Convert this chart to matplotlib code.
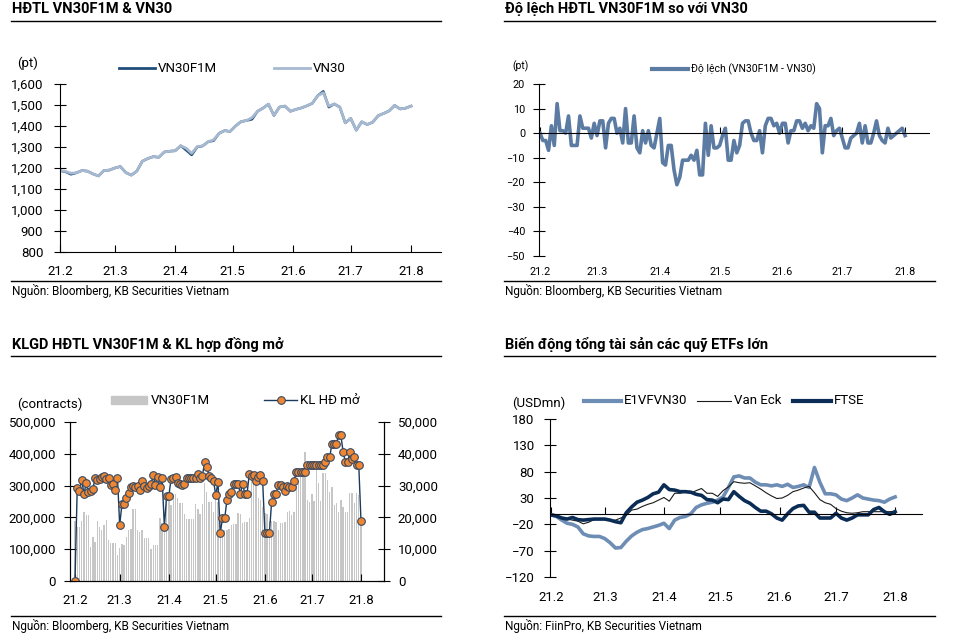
import numpy as np
import matplotlib.pyplot as plt
from matplotlib.lines import Line2D
from matplotlib.patches import Rectangle
from matplotlib.ticker import FuncFormatter

plt.rcParams['font.family'] = ['Roboto', 'DejaVu Sans']

# -----------------------------
# DATA (x = trading day index, Feb-Aug 2021)
# -----------------------------
tick_days = [0, 20, 42, 63, 85, 106, 128]
tick_labels = ['21.2', '21.3', '21.4', '21.5', '21.6', '21.7', '21.8']

# panel 1: index levels, every 2nd trading day
vn30 = [1187, 1184, 1175, 1177, 1188, 1185, 1172, 1162, 1188, 1190, 1200, 1207, 1178,
        1166, 1185, 1232, 1245, 1254, 1251, 1276, 1280, 1282, 1306, 1294, 1270, 1302,
        1305, 1325, 1334, 1365, 1378, 1374, 1400, 1421, 1426, 1440, 1470, 1485, 1504,
        1450, 1490, 1495, 1470, 1479, 1486, 1496, 1508, 1545, 1558, 1495, 1505, 1490,
        1415, 1436, 1380, 1420, 1407, 1418, 1449, 1460, 1472, 1498, 1481, 1485, 1495]
vn30f1m = [1187, 1182, 1170, 1177, 1188, 1185, 1172, 1162, 1188, 1190, 1200, 1207, 1178,
           1166, 1185, 1232, 1245, 1254, 1251, 1276, 1280, 1282, 1306, 1285, 1262, 1300,
           1305, 1325, 1330, 1365, 1378, 1374, 1400, 1421, 1426, 1432, 1470, 1485, 1504,
           1450, 1490, 1495, 1470, 1479, 1486, 1496, 1508, 1545, 1565, 1490, 1505, 1490,
           1415, 1436, 1380, 1420, 1407, 1418, 1449, 1460, 1472, 1498, 1481, 1485, 1495]

# panel 2: basis VN30F1M - VN30, daily
basis = [0, -3, -3, -7, 3, -5, 12, 1, 1, 0, 7, -5, -5, -5, 7, 2, 2, 2, -2, 4,
         -1, 5, 5, -6, 4, 6, 6, 0, 2, -4, 10, -4, -4, 7, -6, -8, 1, -4, 1, -5,
         -6, 0, 6, -12, -13, -5, -5, -15, -21, -18, -11, -11, -11, -9, -11, -7, -17, -17, 4, -9,
         3, -6, -6, -5, -1, 2, -11, -11, -3, -8, -5, 4, 5, 5, 0, -3, -3, 1, -8, 3,
         6, 6, 3, 4, 0, 4, 4, -4, 1, 1, 5, 5, 2, 4, 1, 3, 2, 12, 10, -8,
         3, 3, 6, -1, 1, 2, -2, -6, -6, -2, -1, 0, 4, -4, 3, -4, -4, 0, 5, -1,
         -3, -4, 2, -2, -1, 0, 1, 2, -1]

# panel 3: volume (thousand contracts) and open interest (thousand contracts), daily
volume_k = [188, 171, 171, 188, 218, 209, 207, 107, 139, 123, 188, 171, 160, 176, 192, 128, 121, 121, 121, 81,
            104, 115, 113, 139, 160, 165, 226, 226, 160, 155, 160, 136, 134, 134, 102, 113, 113, 113, 197, 181,
            207, 249, 255, 239, 274, 274, 260, 244, 244, 212, 195, 195, 195, 195, 241, 226, 211, 241, 307, 281,
            249, 249, 218, 270, 247, 165, 160, 160, 160, 165, 176, 178, 178, 213, 211, 183, 186, 186, 197, 331,
            334, 331, 260, 255, 234, 213, 211, 188, 188, 188, 186, 160, 181, 181, 186, 218, 220, 207, 218, 299,
            313, 334, 334, 405, 255, 249, 273, 252, 360, 307, 252, 339, 339, 318, 281, 297, 239, 244, 218, 255,
            234, 218, 218, 276, 276, 244, 276, 271, 180]
oi_k = [0, 29.4, 28.3, 31.8, 27.4, 30.7, 28.1, 28.4, 29.0, 32.3, 31.8, 32.2, 32.8, 33.0, 32.0, 32.5, 30.2, 30.5, 28.6, 32.5,
        17.6, 24.1, 24.1, 26.0, 27.6, 29.7, 30.0, 29.7, 29.8, 28.5, 31.3, 30.0, 29.4, 30.0, 30.5, 33.2, 30.2, 32.8, 29.7, 32.3,
        17.1, 26.8, 26.8, 32.1, 32.3, 32.8, 30.7, 30.4, 30.2, 30.5, 32.5, 32.5, 32.5, 32.5, 32.5, 33.6, 32.5, 33.0, 37.4, 35.9,
        33.0, 32.5, 31.5, 27.0, 31.0, 15.0, 19.7, 19.7, 25.4, 27.5, 28.0, 30.6, 30.6, 30.6, 27.5, 30.6, 27.5, 27.5, 33.6, 33.0,
        33.3, 31.3, 32.8, 33.3, 31.3, 15.0, 15.0, 15.0, 24.9, 27.5, 27.5, 30.3, 30.3, 29.5, 28.2, 30.0, 29.5, 29.5, 31.3, 34.3,
        34.3, 34.3, 34.3, 34.3, 36.6, 36.6, 36.6, 36.6, 36.6, 36.6, 36.6, 36.6, 37.5, 39.0, 39.0, 43.2, 43.2, 43.2, 45.8, 45.8,
        40.6, 37.4, 37.4, 40.6, 38.5, 39.0, 36.6, 36.6, 18.9]

# panel 4: change in ETF assets (USDmn), every 2nd trading day
e1vfvn30 = [-2, -5, -12, -18, -20, -25, -38, -42, -43, -43, -47, -55, -65, -64, -52, -42, -35, -30, -28, -25,
            -22, -18, -28, -12, -7, -5, 0, 12, 17, 20, 22, 26, 32, 50, 70, 72, 68, 68, 60, 55,
            55, 53, 55, 52, 56, 50, 52, 55, 50, 88, 60, 38, 38, 36, 28, 25, 30, 36, 30, 28,
            26, 25, 22, 28, 32]
van_eck = [-2, -5, -7, -10, -12, -14, -19, -16, -11, -10, -10, -13, -12, -8, -3, 7, 9, 14, 18, 21,
           26, 31, 24, 39, 39, 42, 39, 44, 48, 39, 39, 33, 44, 51, 61, 59, 58, 59, 53, 47,
           40, 34, 29, 30, 35, 42, 45, 49, 52, 40, 27, 21, 18, 10, 5, 2, 1, 2, 4, 4,
           4, 4, 4, 4, 5]
ftse = [-2, -4, -8, -10, -7, -11, -12, -11, -10, -10, -10, -12, -15, -17, 2, 13, 22, 26, 31, 38,
        41, 55, 46, 45, 42, 42, 41, 37, 35, 27, 26, 21, 28, 27, 42, 33, 25, 20, 12, 5,
        5, 0, -8, -12, 0, 10, 15, 16, 3, 3, -8, -8, -8, 1, -8, -12, -8, -2, -2, -2,
        8, 12, 4, -1, 4]

days = np.arange(len(basis))
half_days = np.arange(0, len(basis), 2)

# -----------------------------
# HELPERS (pixel -> figure coords)
# -----------------------------
W, H = 961, 635
fig = plt.figure(figsize=(W / 100, H / 100), dpi=100)


def fx(x):
    return x / W


def fy(y):
    return 1 - y / H


def box(l, t, r, b):
    return [l / W, 1 - b / H, (r - l) / W, (b - t) / H]


def hline(x0, x1, y, **kw):
    fig.add_artist(Line2D([fx(x0), fx(x1)], [fy(y), fy(y)], **kw))


def frame(x0, x1, y_title, y_top, y_bot, title, source):
    fig.text(fx(x0 + 1), fy(y_title), title, fontsize=10.5, fontweight='bold', va='center')
    hline(x0, x1, y_top, color='black', lw=1)
    hline(x0, x1, y_bot, color='black', lw=1)
    fig.text(fx(x0 + 1), fy(y_bot + 10), source, fontsize=8.5, va='center')


def legend_line(x0, x1, y, label, fs=9.5, **kw):
    fig.add_artist(Line2D([fx(x0), fx(x1)], [fy(y), fy(y)], **kw))
    fig.text(fx(x1 + 3), fy(y), label, fontsize=fs, va='center')


thousands = FuncFormatter(lambda v, p: f'{v:,.0f}')

# -----------------------------
# PANEL 1
# -----------------------------
frame(11, 441, 9, 21, 281, 'HĐTL VN30F1M & VN30', 'Nguồn: Bloomberg, KB Securities Vietnam')
ax1 = fig.add_axes(box(60, 84, 441, 252))
ax1.plot(half_days, vn30f1m, color='#1f4e79', lw=1.8)
ax1.plot(half_days, vn30, color='#a7b9d1', lw=2.0)
ax1.set_xlim(0, 138.9)
ax1.set_ylim(800, 1600)
ax1.set_yticks(np.arange(800, 1601, 100))
ax1.yaxis.set_major_formatter(thousands)
ax1.set_xticks(tick_days, tick_labels)
ax1.tick_params(axis='x', direction='in', length=5, pad=9, labelsize=9.5)
ax1.tick_params(axis='y', direction='inout', length=8, pad=8, labelsize=9.5)
for s in ['top', 'right']:
    ax1.spines[s].set_visible(False)
fig.text(fx(17), fy(63), '(pt)', fontsize=9.5, va='center')
legend_line(119, 155, 68, 'VN30F1M', color='#1f4e79', lw=2)
legend_line(274, 310, 68, 'VN30', color='#a7b9d1', lw=2)

# -----------------------------
# PANEL 2
# -----------------------------
frame(504, 935, 9, 21, 281, 'Độ lệch HĐTL VN30F1M so với VN30', 'Nguồn: Bloomberg, KB Securities Vietnam')
ax2 = fig.add_axes(box(539, 84, 929, 256))
ax2.plot(days, basis, color='#5b7ba3', lw=2.6)
ax2.set_xlim(-0.35, 136.4)
ax2.set_ylim(-50, 20)
ax2.set_yticks(np.arange(-50, 21, 10))
ax2.spines['bottom'].set_position(('data', 0))
ax2.set_xticks(tick_days)
ax2.tick_params(axis='x', direction='in', length=4, labelbottom=False)
ax2.tick_params(axis='y', direction='inout', length=8, pad=6, labelsize=7.8)
for s in ['top', 'right']:
    ax2.spines[s].set_visible(False)
sec2 = ax2.secondary_xaxis('bottom')
sec2.set_xticks(tick_days, tick_labels)
sec2.tick_params(length=0, pad=8, labelsize=7.8)
sec2.spines['bottom'].set_visible(False)
fig.text(fx(512), fy(66), '(pt)', fontsize=7.5, va='center')
legend_line(652, 688, 69, 'Độ lệch (VN30F1M - VN30)', fs=7.5, color='#5b7ba3', lw=3)

# -----------------------------
# PANEL 3
# -----------------------------
frame(11, 441, 344, 356, 616, 'KLGD HĐTL VN30F1M & KL hợp đồng mở', 'Nguồn: Bloomberg, KB Securities Vietnam')
ax3 = fig.add_axes(box(70, 422, 384, 581))
ax3.bar(days, np.array(volume_k) * 1000, width=0.6, color='#c6c6c6')
ax3.set_xlim(-2.24, 138.3)
ax3.set_ylim(0, 500000)
ax3.set_yticks(np.arange(0, 500001, 100000))
ax3.yaxis.set_major_formatter(thousands)
ax3.set_xticks(tick_days, tick_labels)
ax3.tick_params(axis='x', direction='in', length=5, pad=9, labelsize=9.5)
ax3.tick_params(axis='y', direction='inout', length=8, pad=6, labelsize=9.5)
ax3.spines['top'].set_visible(False)
ax3r = ax3.twinx()
ax3r.plot(days, np.array(oi_k) * 1000, color='#1b3a5c', lw=1, marker='o', ms=5.5,
          mfc='#ee8632', mec='#3a4a60', mew=0.8)
ax3r.set_ylim(0, 50000)
ax3r.set_yticks(np.arange(0, 50001, 10000))
ax3r.yaxis.set_major_formatter(thousands)
ax3r.tick_params(axis='y', direction='inout', length=8, pad=6, labelsize=9.5)
ax3r.spines['top'].set_visible(False)
fig.text(fx(17), fy(404), '(contracts)', fontsize=9.5, va='center')
fig.add_artist(Rectangle((fx(111), fy(404)), fx(36), 8 / H, color='#c6c6c6'))
fig.text(fx(151), fy(400), 'VN30F1M', fontsize=9.5, va='center')
legend_line(264, 297, 400, 'KL HĐ mở', color='#1b3a5c', lw=1)
fig.add_artist(Line2D([fx(281)], [fy(400)], marker='o', ms=5.5, mfc='#ee8632', mec='#3a4a60', mew=0.8))

# -----------------------------
# PANEL 4
# -----------------------------
frame(504, 935, 344, 356, 616, 'Biến động tổng tài sản các quỹ ETFs lớn', 'Nguồn: FiinPro, KB Securities Vietnam')
ax4 = fig.add_axes(box(550, 419, 922, 577))
ax4.plot(half_days, e1vfvn30, color='#6e8db5', lw=2.6)
ax4.plot(half_days, van_eck, color='#1a1a1a', lw=0.8)
ax4.plot(half_days, ftse, color='#0b2c55', lw=2.6)
ax4.set_xlim(-0.37, 138)
ax4.set_ylim(-120, 180)
ax4.set_yticks(np.arange(-120, 181, 50))
ax4.spines['bottom'].set_position(('data', 0))
ax4.set_xticks(tick_days)
ax4.tick_params(axis='x', direction='in', length=5, labelbottom=False)
ax4.tick_params(axis='y', direction='inout', length=8, pad=7, labelsize=9.5)
for s in ['top', 'right']:
    ax4.spines[s].set_visible(False)
sec4 = ax4.secondary_xaxis('bottom')
sec4.set_xticks(tick_days, tick_labels)
sec4.tick_params(length=0, pad=10, labelsize=9.5)
sec4.spines['bottom'].set_visible(False)
fig.text(fx(512), fy(403), '(USDmn)', fontsize=9.5, va='center')
legend_line(584, 621, 401, 'E1VFVN30', color='#6e8db5', lw=3)
legend_line(697, 731, 401, 'Van Eck', color='#1a1a1a', lw=0.8)
legend_line(793, 831, 401, 'FTSE', color='#0b2c55', lw=3)

fig.savefig('out.png', dpi=100)
